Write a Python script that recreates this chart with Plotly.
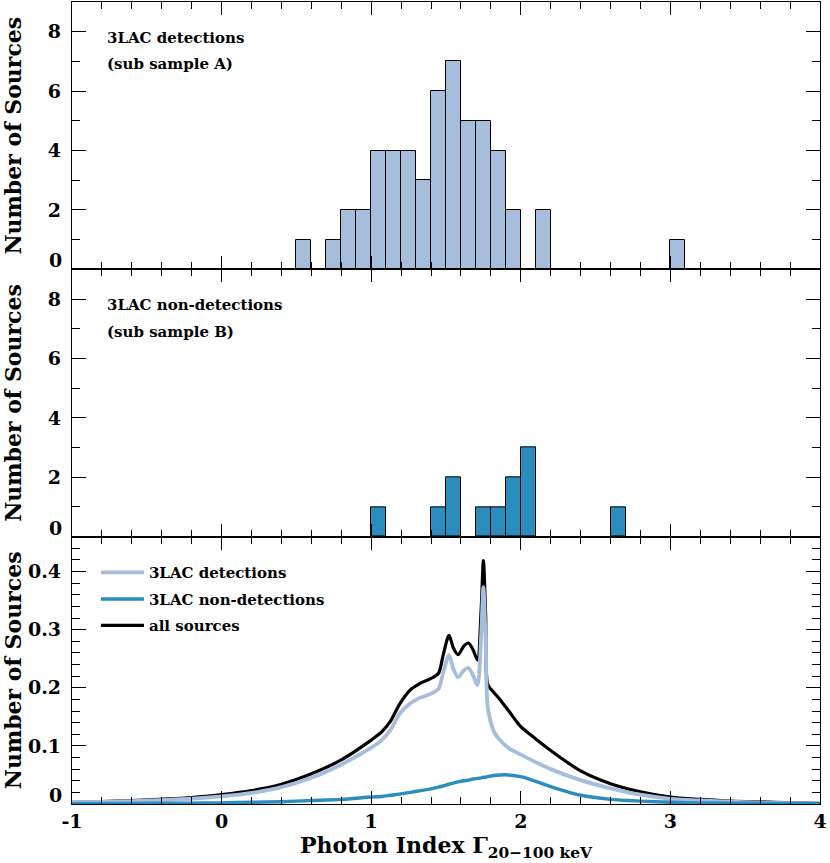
import plotly.graph_objects as go
from plotly.subplots import make_subplots

# --- histogram data (bin lower edge, bin width 0.1) ---
det_edges = [0.5, 0.7, 0.8, 0.9, 1.0, 1.1, 1.2, 1.3, 1.4, 1.5, 1.6, 1.7, 1.8, 1.9, 2.1, 3.0]
det_counts = [1, 1, 2, 2, 4, 4, 4, 3, 6, 7, 5, 5, 4, 2, 2, 1]

nondet_edges = [1.0, 1.4, 1.5, 1.7, 1.8, 1.9, 2.0, 2.6]
nondet_counts = [1, 1, 2, 1, 1, 2, 3, 1]

# --- smoothed distributions ---
kde_x = [-1.0, -0.6, -0.2, 0.0, 0.2, 0.4, 0.6, 0.8, 1.0, 1.07, 1.13, 1.19, 1.26, 1.33,
         1.4, 1.45, 1.48, 1.52, 1.55, 1.58, 1.62, 1.65, 1.68, 1.71, 1.735, 1.75, 1.765,
         1.78, 1.82, 1.86, 1.92, 2.0, 2.1, 2.2, 2.4, 2.6, 2.8, 3.0, 3.2, 3.4, 3.7, 4.0]
kde_det = [0.003, 0.005, 0.009, 0.013, 0.019, 0.029, 0.045, 0.068, 0.097, 0.110, 0.128, 0.155, 0.173, 0.183,
           0.190, 0.198, 0.225, 0.256, 0.232, 0.218, 0.230, 0.234, 0.222, 0.204, 0.290, 0.373, 0.280,
           0.165, 0.125, 0.110, 0.096, 0.085, 0.072, 0.060, 0.041, 0.027, 0.016, 0.009, 0.006, 0.004, 0.002, 0.001]
kde_nondet = [0.0005, 0.001, 0.0015, 0.002, 0.003, 0.004, 0.006, 0.008, 0.012, 0.013, 0.015, 0.017, 0.020, 0.023,
              0.026, 0.029, 0.031, 0.034, 0.036, 0.038, 0.040, 0.041, 0.043, 0.044, 0.045, 0.046, 0.046,
              0.047, 0.049, 0.050, 0.050, 0.047, 0.039, 0.030, 0.015, 0.008, 0.005, 0.003, 0.002, 0.0015, 0.001, 0.0005]
kde_all = [0.003, 0.006, 0.011, 0.016, 0.023, 0.034, 0.052, 0.076, 0.110, 0.124, 0.143, 0.172, 0.196, 0.208,
           0.216, 0.225, 0.255, 0.290, 0.268, 0.257, 0.272, 0.277, 0.266, 0.248, 0.335, 0.419, 0.325,
           0.205, 0.192, 0.180, 0.160, 0.133, 0.112, 0.092, 0.057, 0.035, 0.021, 0.012, 0.008, 0.005, 0.003, 0.001]

x_ticks = [-1, 0, 1, 2, 3, 4]
x_ticktext = ["-1", "0", "1", "2", "3", "4"]
hist_ticks = [2, 4, 6, 8]
kde_ticks = [0.1, 0.2, 0.3, 0.4]

LIGHT = "#a6bddb"
DARK = "#2b8cbe"
FONT = "DejaVu Serif"

fig = make_subplots(rows=3, cols=1, shared_xaxes=True, vertical_spacing=0)

fig.add_trace(go.Bar(x=det_edges, y=det_counts, width=0.1, offset=0, showlegend=False,
                     marker=dict(color=LIGHT, line=dict(color="black", width=1))), row=1, col=1)
fig.add_trace(go.Bar(x=nondet_edges, y=nondet_counts, width=0.1, offset=0, showlegend=False,
                     marker=dict(color=DARK, line=dict(color="black", width=1))), row=2, col=1)

# black drawn first so the coloured curves sit on top, legend order set by rank
fig.add_trace(go.Scatter(x=kde_x, y=kde_all, mode="lines", name="all sources", legendrank=3,
                         legendgroup="c", line=dict(color="black", width=3.2, shape="spline", smoothing=0.8)),
              row=3, col=1)
fig.add_trace(go.Scatter(x=kde_x, y=kde_det, mode="lines", name="3LAC detections", legendrank=1,
                         legendgroup="a", line=dict(color=LIGHT, width=3.8, shape="spline", smoothing=0.8)),
              row=3, col=1)
fig.add_trace(go.Scatter(x=kde_x, y=kde_nondet, mode="lines", name="3LAC non-detections", legendrank=2,
                         legendgroup="b", line=dict(color=DARK, width=3.4, shape="spline", smoothing=0.8)),
              row=3, col=1)

axis_common = dict(showline=True, linecolor="black", linewidth=1.3, mirror="allticks", ticks="inside",
                   tickcolor="black", tickwidth=1.2, showgrid=False, zeroline=False, automargin=False,
                   tickfont=dict(family=FONT, size=19, color="black", weight="bold"))

for r in (1, 2, 3):
    fig.update_xaxes(range=[-1, 4], tickvals=x_ticks, ticktext=x_ticktext, ticklen=13,
                     minor=dict(ticks="inside", dtick=0.2, tick0=-1, ticklen=7, tickcolor="black", tickwidth=1),
                     row=r, col=1, **axis_common)

title_font = dict(family=FONT, size=22, color="black", weight="bold")
for r in (1, 2):
    fig.update_yaxes(range=[0, 9], tickvals=hist_ticks, ticklen=14, ticklabelstandoff=6,
                     title=dict(text="Number of Sources", font=title_font, standoff=25),
                     minor=dict(ticks="inside", dtick=1, ticklen=8, tickcolor="black", tickwidth=1),
                     row=r, col=1, **axis_common)
fig.update_yaxes(range=[0, 0.46], tickvals=kde_ticks, ticklen=14, ticklabelstandoff=6,
                 title=dict(text="Number of Sources", font=title_font, standoff=10),
                 minor=dict(ticks="inside", dtick=0.02, ticklen=8, tickcolor="black", tickwidth=1),
                 row=3, col=1, **axis_common)

fig.update_xaxes(title=dict(text="Photon Index Γ<sub>20−100 keV</sub>", font=title_font, standoff=2),
                 row=3, col=1)

# "0" labels sit slightly above the frame
for yref in ("y", "y2", "y3"):
    fig.add_annotation(text="0", xref="paper", x=0, xanchor="right", xshift=-8, yref=yref, y=0,
                       yanchor="middle", yshift=9, showarrow=False,
                       font=dict(family=FONT, size=19, color="black", weight="bold"))

label_font = dict(family=FONT, size=15, color="black", weight="bold")
panel_labels = [("3LAC detections", "y", 7.8), ("(sub sample A)", "y", 6.9),
                ("3LAC non-detections", "y2", 7.8), ("(sub sample B)", "y2", 6.9)]
for txt, yref, yv in panel_labels:
    fig.add_annotation(text=txt, xref="x", x=-0.78, xanchor="left", yref=yref, y=yv, yanchor="middle",
                       showarrow=False, font=label_font)

fig.update_layout(width=830, height=863, margin=dict(l=72, r=10, t=2, b=59),
                  plot_bgcolor="white", paper_bgcolor="white", bargap=0,
                  legend=dict(x=0.032, y=0.309, xanchor="left", yanchor="top", font=label_font,
                              itemwidth=43, tracegroupgap=4, bgcolor="rgba(0,0,0,0)"))

# page has an 8px default body margin; drop it so the figure fills the window
fig.write_html("out.html", config={"displayModeBar": False},
               post_script="document.body.style.margin='0';")
